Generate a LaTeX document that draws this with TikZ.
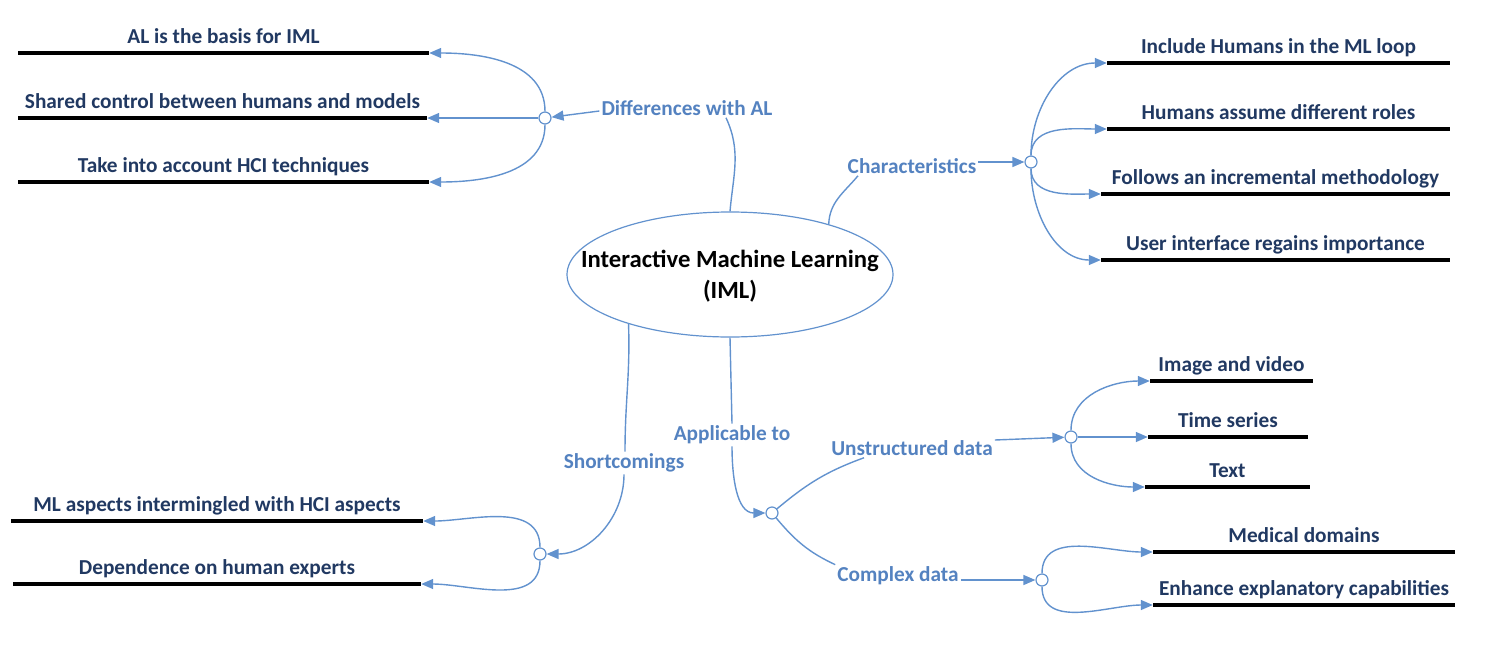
\documentclass[tikz,border=0pt]{standalone}
\usepackage{fontspec}
\setmainfont{Carlito}
\usepackage{tikz}
\usetikzlibrary{positioning,arrows.meta,shapes.geometric}
\definecolor{mapblue}{RGB}{98,146,206}
\definecolor{maplabel}{RGB}{84,130,192}
\definecolor{leafink}{RGB}{33,57,98}
\tikzset{
  branch/.style={draw=mapblue, line width=1.4pt},
  barrow/.style={branch, -{Triangle[length=12pt,width=10pt]}},
  hub/.style={circle, draw=mapblue, fill=white, line width=1.2pt,
              inner sep=0pt, minimum size=12pt},
  blabel/.style={font=\fontsize{21.3}{25}\selectfont\bfseries, text=maplabel,
                 inner sep=2pt},
  leafbar/.style={fill=black, inner sep=0pt, minimum height=4.5pt},
  leaftext/.style={font=\fontsize{21.3}{25}\selectfont\bfseries, text=leafink,
                   inner sep=0pt, text depth=0pt, yshift=7pt},
}

\begin{document}
\begin{tikzpicture}[x=1pt,y=1pt]
  \useasboundingbox (0,0) rectangle (1496,-656);
  % centre
  \node[ellipse, draw=mapblue, line width=1.2pt, minimum width=326pt,
        minimum height=125pt, inner sep=0pt] (iml) at (730,-274.5) {};
  \node[font=\fontsize{24.7}{31}\selectfont\bfseries, align=center] (imltext)
        at (730,-276) {Interactive Machine Learning\\(IML)};
  % branch labels and hubs
  \node[blabel] (diff) at (687,-108) {Differences with AL};
  \node[blabel] (char) at (912,-166) {Characteristics};
  \node[blabel] (short) at (624,-463) {Shortcomings};
  \node[blabel] (appl) at (732,-435) {Applicable to};
  \node[blabel] (unstr) at (912,-448) {Unstructured data};
  \node[blabel] (cplx) at (898,-576) {Complex data};
  \node[hub] (hdiff) at (545,-118) {};
  \node[hub] (hchar) at (1031,-162) {};
  \node[hub] (hshort) at (540,-554) {};
  \node[hub] (happl) at (772,-513) {};
  \node[hub] (hunstr) at (1071,-437) {};
  \node[hub] (hcplx) at (1042,-580) {};
  % leaves
  \node[leafbar, minimum width=411pt, label={[leaftext]above:AL is the basis for IML}] (al1) at (223.5,-53) {};
  \node[leafbar, minimum width=409pt, label={[leaftext]above:Shared control between humans and models}] (al2) at (222.5,-118) {};
  \node[leafbar, minimum width=411pt, label={[leaftext]above:Take into account HCI techniques}] (al3) at (223.5,-182) {};
  \node[leafbar, minimum width=343pt, label={[leaftext]above:Include Humans in the ML loop}] (ch1) at (1278.5,-63) {};
  \node[leafbar, minimum width=343pt, label={[leaftext]above:Humans assume different roles}] (ch2) at (1278.5,-129) {};
  \node[leafbar, minimum width=349pt, label={[leaftext]above:Follows an incremental methodology}] (ch3) at (1275.5,-194) {};
  \node[leafbar, minimum width=349pt, label={[leaftext]above:User interface regains importance}] (ch4) at (1275.5,-260) {};
  \node[leafbar, minimum width=412pt, label={[leaftext]above:ML aspects intermingled with HCI aspects}] (sh1) at (217,-521) {};
  \node[leafbar, minimum width=408pt, label={[leaftext]above:Dependence on human experts}] (sh2) at (217,-584) {};
  \node[leafbar, minimum width=163pt, label={[leaftext]above:Image and video}] (un1) at (1231.5,-381) {};
  \node[leafbar, minimum width=160pt, label={[leaftext]above:Time series}] (un2) at (1228,-437) {};
  \node[leafbar, minimum width=165pt, label={[leaftext]above:Text}] (un3) at (1227.5,-487) {};
  \node[leafbar, minimum width=302pt, label={[leaftext]above:Medical domains}] (cx1) at (1304,-552) {};
  \node[leafbar, minimum width=302pt, label={[leaftext]above:Enhance explanatory capabilities}] (cx2) at (1304,-605) {};
  % centre to branches
  \draw[branch] (iml.north) to[out=85,in=-65] ([xshift=39pt]diff.south);
  \draw[branch] (iml.27) to[out=88,in=-130] ([xshift=-54pt]char.south);
  \draw[branch] (iml.206) to[out=-88,in=90] ([xshift=1pt]short.north);
  \draw[branch] (iml.south) -- (appl.north);
  \draw[barrow] ([yshift=-3pt]diff.west) -- (hdiff);
  \draw[barrow] ([yshift=4pt]char.east) -- (hchar);
  \draw[barrow] (short.south) to[out=-90,in=0] (hshort);
  \draw[barrow] (appl.south) to[out=-90,in=180] (happl);
  \draw[branch] (happl) to[out=40,in=-160] ([xshift=-48pt]unstr.south);
  \draw[branch] (happl) to[out=-50,in=155] (cplx.north west);
  \draw[barrow] ([yshift=8pt]unstr.east) -- (hunstr);
  \draw[barrow] ([yshift=-4pt]cplx.east) -- (hcplx);
  % hubs to leaves
  \draw[barrow] (hdiff) to[out=90,in=0] (al1.east);
  \draw[barrow] (hdiff) -- (al2.east);
  \draw[barrow] (hdiff) to[out=-90,in=0] (al3.east);
  \draw[barrow] (hchar) to[out=90,in=180] (ch1.west);
  \draw[barrow] (hchar) to[out=90,in=180] (ch2.west);
  \draw[barrow] (hchar) to[out=-90,in=180] (ch3.west);
  \draw[barrow] (hchar) to[out=-90,in=180] (ch4.west);
  \draw[barrow] (hshort) to[out=90,in=0] (sh1.east);
  \draw[barrow] (hshort) to[out=-90,in=0] (sh2.east);
  \draw[barrow] (hunstr) to[out=90,in=180] (un1.west);
  \draw[barrow] (hunstr) -- (un2.west);
  \draw[barrow] (hunstr) to[out=-90,in=180] (un3.west);
  \draw[barrow] (hcplx) to[out=90,in=180] (cx1.west);
  \draw[barrow] (hcplx) to[out=-90,in=180] (cx2.west);
\end{tikzpicture}
\end{document}
